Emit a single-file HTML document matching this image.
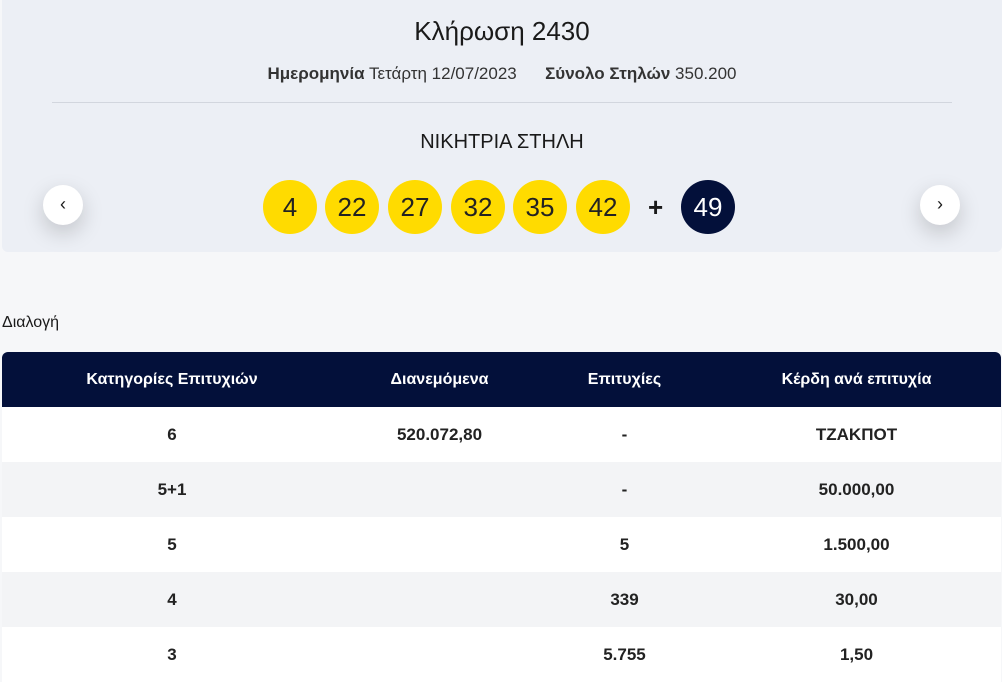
<!DOCTYPE html>
<html><head><meta charset="utf-8"><style>
*{margin:0;padding:0;box-sizing:border-box}
body{width:1002px;height:682px;background:#f6f7f9;font-family:"Liberation Sans","DejaVu Sans",sans-serif;color:#1a1a1a;position:relative;overflow:hidden}
.panel{position:absolute;left:2px;top:0;width:1000px;height:252px;background:#eceff5;border-radius:0 0 6px 6px}
.t{position:absolute;width:100%;text-align:center}
.ball{position:absolute;top:180px;width:54px;height:54px;border-radius:50%;background:#ffdb00;font-size:26px;text-align:center;line-height:54px;color:#222}
.arr{position:absolute;top:185px;width:40px;height:40px;border-radius:50%;background:#fff;box-shadow:0 8px 22px rgba(0,0,0,.18);text-align:center;line-height:38px;font-size:18px}
table{position:absolute;left:2px;top:352px;width:999px;border-collapse:collapse;font-weight:bold;font-size:17px}
th{background:#03103a;color:#fff;height:55px;font-size:16px}
td{height:55px;text-align:center;color:#222}
tr:nth-child(odd) td{background:#f3f4f6}
tr:nth-child(even) td{background:#fff}
</style></head><body>
<div class="panel">
<div class="t" style="top:16px;font-size:26px">Κλήρωση 2430</div>
<div class="t" style="top:64px;font-size:17px;color:#333"><b>Ημερομηνία</b> Τετάρτη 12/07/2023 &nbsp;&nbsp;&nbsp;&nbsp; <b>Σύνολο Στηλών</b> 350.200</div>
<div style="position:absolute;left:50px;top:102px;width:900px;height:1px;background:#d2d6de"></div>
<div class="t" style="top:131px;font-size:20px">ΝΙΚΗΤΡΙΑ ΣΤΗΛΗ</div>
</div>
<div class="arr" style="left:43px">‹</div>
<div class="arr" style="left:920px">›</div>
<div class="ball" style="left:263px">4</div>
<div class="ball" style="left:325px">22</div>
<div class="ball" style="left:388px">27</div>
<div class="ball" style="left:451px">32</div>
<div class="ball" style="left:513px">35</div>
<div class="ball" style="left:576px">42</div>
<div style="position:absolute;left:648px;top:192px;font-size:26px;font-weight:bold">+</div>
<div class="ball" style="left:681px;background:#03103a;color:#fff">49</div>
<div style="position:absolute;left:2px;top:314px;font-size:16px">Διαλογή</div>
<table>
<tr><th style="width:340px;border-radius:6px 0 0 0">Κατηγορίες Επιτυχιών</th><th style="width:195px">Διανεμόμενα</th><th style="width:175px">Επιτυχίες</th><th style="border-radius:0 6px 0 0">Κέρδη ανά επιτυχία</th></tr>
<tr><td>6</td><td>520.072,80</td><td>-</td><td>ΤΖΑΚΠΟΤ</td></tr>
<tr><td>5+1</td><td></td><td>-</td><td>50.000,00</td></tr>
<tr><td>5</td><td></td><td>5</td><td>1.500,00</td></tr>
<tr><td>4</td><td></td><td>339</td><td>30,00</td></tr>
<tr><td>3</td><td></td><td>5.755</td><td>1,50</td></tr>
</table>
</body></html>
